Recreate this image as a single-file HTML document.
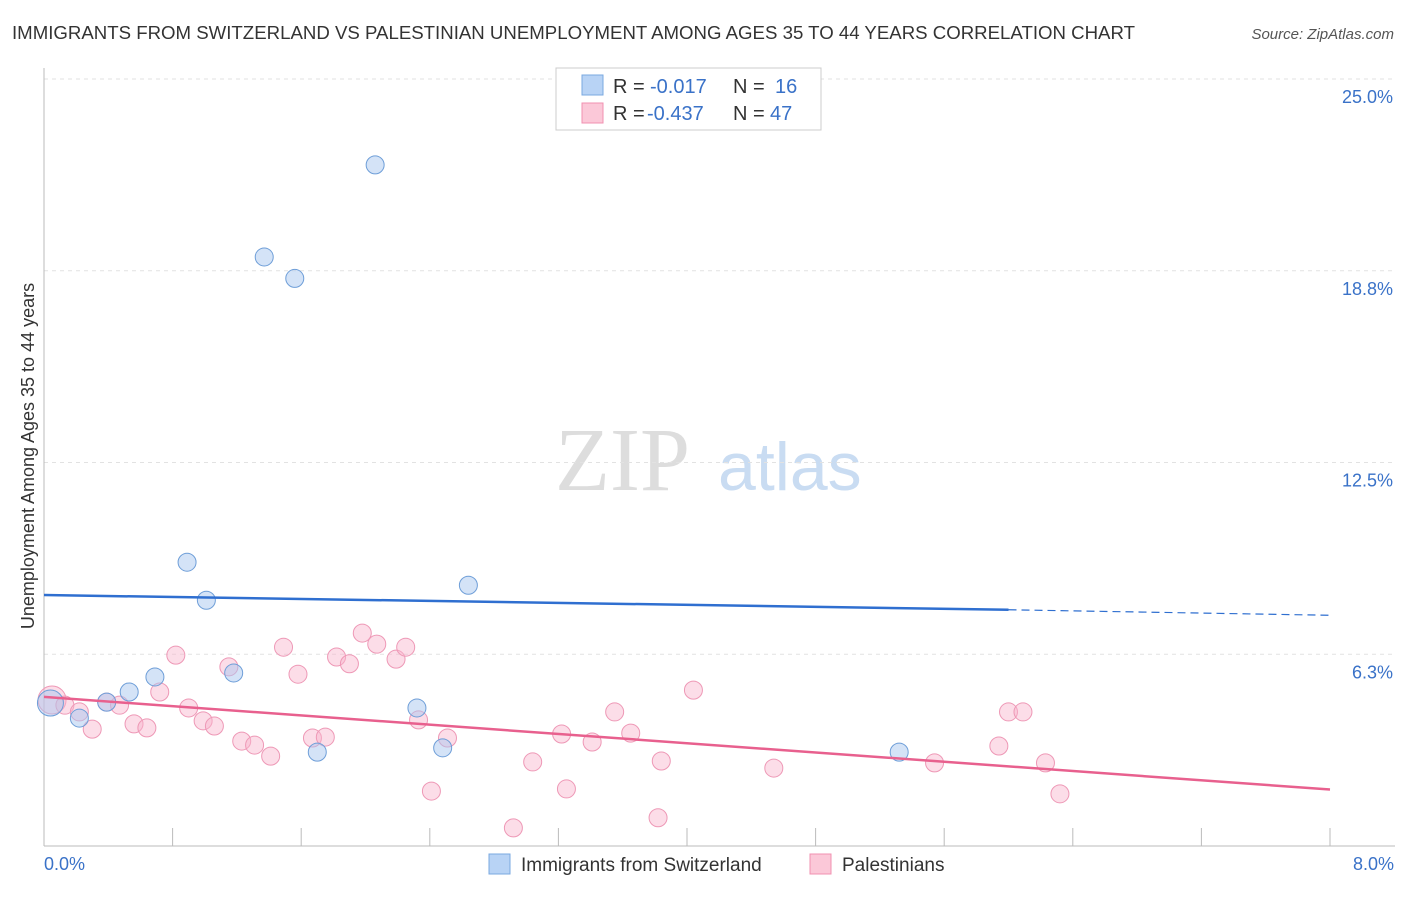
<!DOCTYPE html>
<html><head><meta charset="utf-8"><style>
body{margin:0;background:#fff;font-family:"Liberation Sans",sans-serif}
</style></head><body>
<svg id="chart" width="1406" height="892" xmlns="http://www.w3.org/2000/svg" font-family="Liberation Sans, sans-serif">
<text x="12" y="39" font-size="18" fill="#333" textLength="1123" lengthAdjust="spacingAndGlyphs">IMMIGRANTS FROM SWITZERLAND VS PALESTINIAN UNEMPLOYMENT AMONG AGES 35 TO 44 YEARS CORRELATION CHART</text>
<text x="1394" y="39" font-size="15" fill="#555" font-style="italic" text-anchor="end">Source: ZipAtlas.com</text>
<text transform="translate(34,456) rotate(-90)" font-size="18" fill="#333" text-anchor="middle">Unemployment Among Ages 35 to 44 years</text>
<text x="555" y="490" font-size="90" fill="#ddd" font-family="Liberation Serif, serif">ZIP</text>
<text x="718" y="490" font-size="68" fill="#c9dcf2">atlas</text>
<g id="grid"></g><g id="axes"></g><g id="marks"></g>
<g>
<rect x="556" y="68" width="265" height="62" fill="#fff" stroke="#ccc"/>
<rect x="582" y="75" width="21" height="20" fill="#b8d3f5" stroke="#7aa8e0"/>
<rect x="582" y="103" width="21" height="20" fill="#fbc8d8" stroke="#f090b0"/>
<g font-size="20" fill="#333">
<text x="613" y="93">R =</text>
<text x="650" y="93" fill="#3a72c8">-0.017</text>
<text x="733" y="93">N =</text>
<text x="775" y="93" fill="#3a72c8">16</text>
<text x="613" y="120">R =</text>
<text x="647" y="120" fill="#3a72c8">-0.437</text>
<text x="733" y="120">N =</text>
<text x="770" y="120" fill="#3a72c8">47</text>
</g>
</g>
<g>
<rect x="489" y="854" width="21" height="20" fill="#b8d3f5" stroke="#7aa8e0"/>
<text x="521" y="871" font-size="19" fill="#333">Immigrants from Switzerland</text>
<rect x="810" y="854" width="21" height="20" fill="#fbc8d8" stroke="#f090b0"/>
<text x="842" y="871" font-size="19" fill="#333">Palestinians</text>
</g>
</svg>
<script>
const yTicks=[6.25,12.5,18.75,25];
const yTickLabels=["6.3%","12.5%","18.8%","25.0%"];
const xTickLabels=["0.0%","8.0%"];
const blueX=[0.04,0.22,0.39,0.53,0.69,0.89,1.01,1.18,1.37,1.56,1.70,2.06,2.32,2.48,2.64,5.32];
const blueY=[4.66,4.17,4.69,5.02,5.51,9.25,8.01,5.64,19.2,18.5,3.06,22.2,4.5,3.2,8.5,3.06];
const blueSize=[13,9,9,9,9,9,9,9,9,9,9,9,9,9,9,9];
const pinkX=[0.05,0.13,0.22,0.30,0.39,0.47,0.56,0.64,0.72,0.82,0.90,0.99,1.06,1.15,1.23,1.31,1.41,1.49,1.58,1.67,1.75,1.82,1.90,1.98,2.07,2.19,2.25,2.33,2.41,2.51,2.92,3.04,3.22,3.25,3.41,3.55,3.65,3.82,3.84,4.04,4.54,5.54,5.94,6.00,6.09,6.23,6.32];
const pinkY=[4.76,4.59,4.37,3.81,4.69,4.59,3.98,3.85,5.02,6.22,4.5,4.08,3.91,5.84,3.42,3.29,2.93,6.48,5.6,3.52,3.55,6.16,5.94,6.94,6.58,6.09,6.48,4.11,1.79,3.52,0.59,2.74,3.65,1.86,3.39,4.37,3.68,0.92,2.77,5.08,2.54,2.71,3.26,4.37,4.37,2.71,1.7];
const pinkSize=[14,9,9,9,9,9,9,9,9,9,9,9,9,9,9,9,9,9,9,9,9,9,9,9,9,9,9,9,9,9,9,9,9,9,9,9,9,9,9,9,9,9,9,9,9,9,9];
const blueTrend=[8.18,7.70,7.52];
const pinkTrend=[4.86,1.84];
const NS="http://www.w3.org/2000/svg";
const X0=44,X1=1330,Y0=846,YT=79;
function sx(v){return X0+v/8*(X1-X0);}
function sy(v){return Y0-v/25*(Y0-YT);}
function mk(t,a,p){const e=document.createElementNS(NS,t);for(const k in a)e.setAttribute(k,a[k]);document.getElementById(p).appendChild(e);return e;}
yTicks.forEach((t,i)=>{
 const l=mk('line',{x1:X0,x2:1395,y1:sy(t),y2:sy(t),stroke:'#e2e2e2','stroke-dasharray':'4,4'},'grid');
 
 
 const tx=mk('text',{x:1393,y:sy(t)+24,'font-size':18,fill:'#3a72c8','text-anchor':'end'},'axes');
 tx.textContent=yTickLabels[i];
 
 
});
let ax=mk('line',{x1:X0,x2:X0,y1:68,y2:Y0,stroke:'#bbb'},'axes');


ax=mk('line',{x1:X0,x2:1395,y1:Y0,y2:Y0,stroke:'#bbb'},'axes');


for(let i=0;i<=10;i++){
 const t=mk('line',{x1:sx(i*0.8),x2:sx(i*0.8),y1:Y0,y2:Y0-18,stroke:'#bbb'},'axes');
 
 
}
[[0,'start',44],[8,'end',1394]].forEach((d,i)=>{
 const tx=mk('text',{x:d[2],y:870,'font-size':18,fill:'#3a72c8','text-anchor':d[1]},'axes');
 tx.textContent=xTickLabels[i];
 
 
});
pinkX.forEach((v,i)=>{
 const c=mk('circle',{cx:sx(v),cy:sy(pinkY[i]),r:pinkSize[i],fill:'rgba(248,180,204,0.45)',stroke:'#ee98b6','stroke-width':1},'marks');
 
 
});
blueX.forEach((v,i)=>{
 const c=mk('circle',{cx:sx(v),cy:sy(blueY[i]),r:blueSize[i],fill:'rgba(170,200,240,0.5)',stroke:'#6e9ed8','stroke-width':1},'marks');
 
 
});
let tl=mk('line',{x1:sx(0),y1:sy(blueTrend[0]),x2:sx(6),y2:sy(blueTrend[1]),stroke:'#2f6fd0','stroke-width':2.5},'marks');


tl=mk('line',{x1:sx(6),y1:sy(blueTrend[1]),x2:sx(8),y2:sy(blueTrend[2]),stroke:'#2f6fd0','stroke-width':1.2,'stroke-dasharray':'8,5'},'marks');


tl=mk('line',{x1:sx(0),y1:sy(pinkTrend[0]),x2:sx(8),y2:sy(pinkTrend[1]),stroke:'#e8608e','stroke-width':2.5},'marks');


</script>
</body></html>
